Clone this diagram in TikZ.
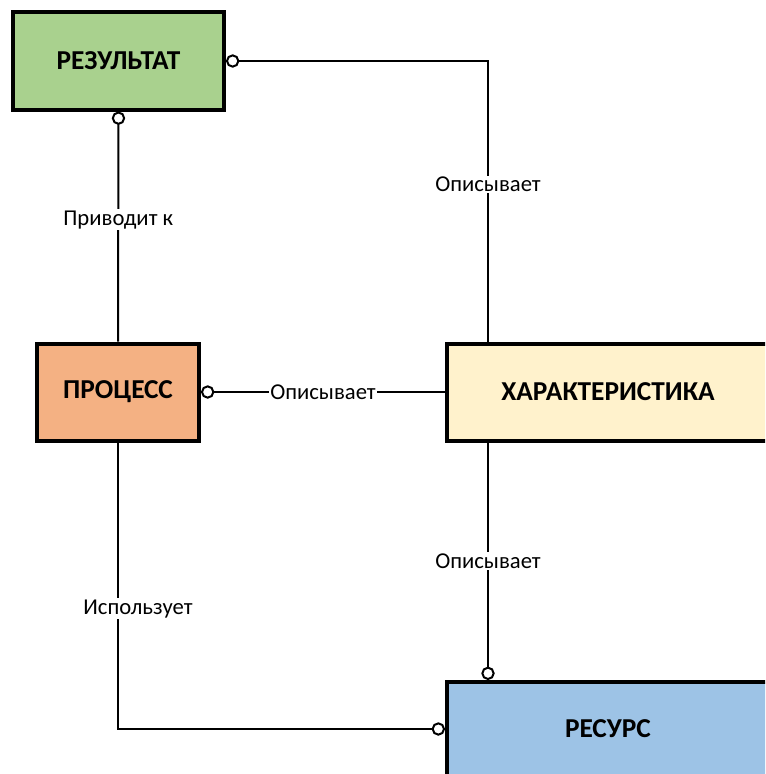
\documentclass[tikz,border=0pt]{standalone}
\usepackage{fontspec}
\setmainfont{Carlito}
\usetikzlibrary{arrows.meta,calc}

\definecolor{resgreen}{RGB}{169,209,142}
\definecolor{procorange}{RGB}{244,177,131}
\definecolor{haryellow}{RGB}{255,242,204}
\definecolor{resblue}{RGB}{157,195,230}

\tikzset{every picture/.style={line width=0.75pt}}
\tikzset{
  entity/.style={draw=black,line width=3pt,font=\fontsize{20.5}{24}\selectfont\bfseries,align=center,inner sep=0pt},
  link/.style={line width=1.5pt},
  lbl/.style={fill=white,inner sep=1pt,font=\fontsize{17}{20}\selectfont},
  ring/.tip={Circle[open,length=10pt,width=10pt,line width=1.5pt]}
}

\begin{document}
\begin{tikzpicture}[x=0.75pt,y=0.75pt,yscale=-1,xscale=1]
\useasboundingbox (0,0) rectangle (765,774);
\clip (0,0) rectangle (765,774);

%Shape: Rectangle [id:res]
\node [entity,fill=resgreen,minimum width=211*0.75pt,minimum height=97*0.75pt] (res) at (118.5,61) {РЕЗУЛЬТАТ};
%Shape: Rectangle [id:proc]
\node [entity,fill=procorange,minimum width=162*0.75pt,minimum height=97*0.75pt] (proc) at (118,392) {ПРОЦЕСС};
%Shape: Rectangle [id:har]
\node [entity,fill=haryellow,minimum width=322*0.75pt,minimum height=97*0.75pt] (har) at (608,392) {ХАРАКТЕРИСТИКА};
%Shape: Rectangle [id:resurs]
\node [entity,fill=resblue,minimum width=322*0.75pt,minimum height=94*0.75pt] (resurs) at (608,729) {РЕСУРС};

%Straight Lines
\draw [link,ring-] (res.south) -- node[lbl,pos=0.47] {Приводит к} (proc.north);
\draw [link,ring-] (res.east) -| node[lbl,pos=0.72] {Описывает} ($(har.north west)+(43,0)$);
\draw [link,ring-] (proc.east) -- node[lbl] {Описывает} (har.west);
\draw [link,-ring] ($(har.south west)+(43,0)$) -- node[lbl] {Описывает} ($(resurs.north west)+(43,0)$);
\draw [link,-ring] (proc.south) |- node[lbl,pos=0.29,xshift=15pt] {Использует} (resurs.west);

\end{tikzpicture}
\end{document}
